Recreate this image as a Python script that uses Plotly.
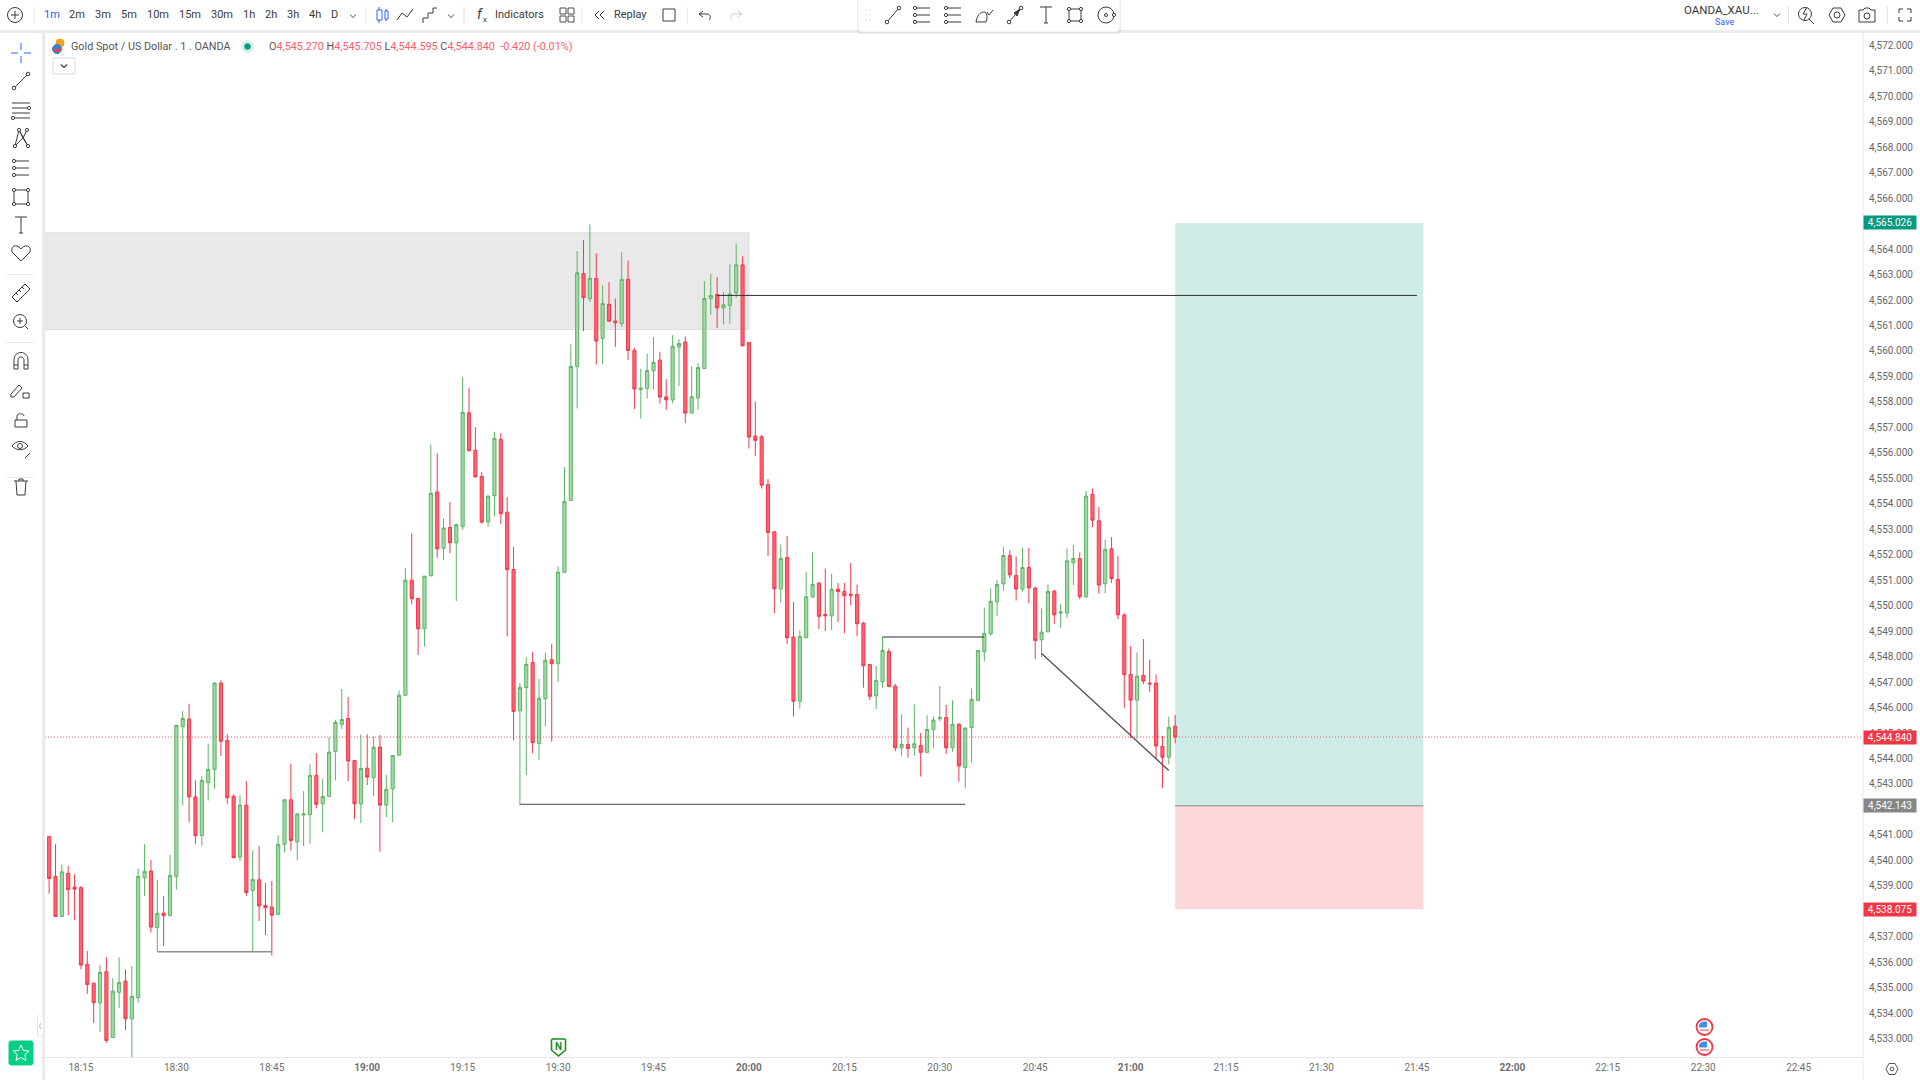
# -*- coding: utf-8 -*-
import plotly.graph_objects as go

# 1 minute candles, first one at 18:10, last one at 21:07
start_hour, start_minute = 18, 10

opens = [
    4540.94, 4539.37, 4537.80, 4539.49, 4538.95, 4538.93, 4535.92, 4535.18, 4534.41, 4535.63,
    4533.04, 4534.82, 4535.26, 4533.78, 4534.61, 4539.32, 4539.58, 4537.36, 4537.93, 4537.83,
    4539.36, 4545.25, 4545.55, 4542.49, 4540.97, 4543.05, 4543.57, 4546.96, 4544.71, 4542.52,
    4540.13, 4542.17, 4538.82, 4539.24, 4538.23, 4538.17, 4537.88, 4540.63, 4542.38, 4540.73,
    4541.78, 4541.79, 4543.34, 4542.22, 4542.51, 4544.27, 4545.34, 4545.57, 4543.92, 4542.22,
    4543.62, 4543.24, 4544.45, 4542.17, 4542.81, 4544.13, 4546.48, 4551.00, 4550.28, 4549.09,
    4551.17, 4554.46, 4552.25, 4553.07, 4552.47, 4553.11, 4557.57, 4556.10, 4555.07, 4553.29,
    4554.32, 4556.53, 4553.67, 4551.42, 4545.87, 4546.79, 4547.77, 4544.59, 4546.35, 4547.88,
    4547.72, 4551.31, 4554.13, 4559.39, 4563.04, 4562.05, 4562.85, 4560.49, 4561.83, 4561.17,
    4561.07, 4562.81, 4560.02, 4558.48, 4558.53, 4559.22, 4559.64, 4558.20, 4558.08, 4560.16,
    4560.35, 4557.56, 4558.16, 4559.31, 4562.06, 4562.22, 4561.69, 4561.79, 4562.28, 4563.38,
    4560.33, 4556.66, 4556.63, 4554.76, 4552.90, 4550.66, 4551.89, 4548.77, 4546.25, 4548.74,
    4550.34, 4550.89, 4549.66, 4549.60, 4550.65, 4550.56, 4550.44, 4550.44, 4549.31, 4547.69,
    4546.46, 4547.01, 4548.20, 4546.84, 4544.42, 4544.55, 4544.42, 4544.51, 4544.24, 4545.13,
    4545.56, 4545.61, 4544.42, 4545.35, 4543.64, 4545.21, 4546.28, 4548.19, 4548.90, 4550.15,
    4550.86, 4551.97, 4551.19, 4550.65, 4551.50, 4550.69, 4548.66, 4548.97, 4550.57, 4549.71,
    4549.71, 4551.68, 4551.85, 4550.35, 4554.37, 4553.33, 4550.86, 4552.23, 4551.03, 4549.63,
    4547.30, 4546.29, 4547.26, 4546.96, 4546.96, 4544.47, 4544.05, 4545.27,
]
highs = [
    4540.94, 4540.63, 4539.84, 4539.78, 4539.45, 4538.99, 4536.44, 4535.18, 4535.89, 4536.20,
    4535.37, 4536.20, 4535.72, 4535.85, 4539.68, 4540.63, 4540.02, 4539.24, 4538.59, 4540.21,
    4545.30, 4545.86, 4546.15, 4543.14, 4543.32, 4544.58, 4546.99, 4547.07, 4544.95, 4542.59,
    4542.56, 4543.11, 4540.39, 4540.56, 4539.11, 4539.19, 4540.99, 4542.41, 4543.79, 4541.86,
    4542.72, 4543.77, 4544.21, 4543.19, 4544.84, 4545.52, 4546.73, 4546.41, 4543.92, 4544.95,
    4544.95, 4544.87, 4544.92, 4543.35, 4544.12, 4546.67, 4551.49, 4552.84, 4550.31, 4551.16,
    4556.33, 4555.98, 4553.43, 4554.07, 4553.22, 4558.97, 4558.56, 4557.01, 4555.24, 4554.33,
    4556.83, 4556.78, 4554.26, 4552.30, 4546.96, 4547.98, 4548.19, 4547.12, 4548.16, 4548.50,
    4551.54, 4555.44, 4560.26, 4563.92, 4564.35, 4564.97, 4563.83, 4562.58, 4562.70, 4562.06,
    4563.87, 4563.55, 4560.12, 4559.30, 4559.90, 4560.54, 4559.97, 4558.89, 4560.62, 4560.46,
    4560.57, 4559.40, 4559.52, 4562.74, 4563.02, 4562.90, 4562.31, 4563.40, 4564.21, 4563.71,
    4560.33, 4558.02, 4556.70, 4554.97, 4552.90, 4552.40, 4552.74, 4550.14, 4549.03, 4551.33,
    4552.09, 4550.91, 4551.46, 4551.26, 4550.89, 4550.89, 4551.67, 4550.83, 4549.37, 4547.69,
    4547.63, 4548.77, 4548.32, 4546.93, 4545.73, 4545.21, 4546.12, 4545.00, 4545.70, 4545.65,
    4546.84, 4546.10, 4546.28, 4545.38, 4545.23, 4546.75, 4548.24, 4549.92, 4550.68, 4551.02,
    4552.30, 4552.18, 4551.93, 4552.27, 4552.27, 4550.75, 4549.89, 4550.83, 4550.62, 4550.07,
    4552.25, 4552.38, 4552.09, 4554.50, 4554.60, 4553.87, 4552.59, 4552.69, 4551.96, 4549.71,
    4548.41, 4548.16, 4548.69, 4547.88, 4547.30, 4544.89, 4545.65, 4545.705,
]
lows = [
    4538.69, 4537.80, 4537.77, 4537.85, 4537.67, 4535.73, 4534.76, 4533.61, 4533.27, 4532.84,
    4533.04, 4534.21, 4533.34, 4532.10, 4534.41, 4538.60, 4537.17, 4536.41, 4536.64, 4537.83,
    4538.85, 4542.17, 4541.50, 4540.65, 4540.57, 4542.35, 4542.81, 4544.10, 4542.22, 4540.10,
    4539.97, 4538.61, 4536.41, 4537.62, 4537.07, 4536.26, 4537.88, 4540.31, 4540.39, 4540.00,
    4540.56, 4540.65, 4542.04, 4541.10, 4542.51, 4543.14, 4545.16, 4543.11, 4541.62, 4541.46,
    4542.96, 4542.51, 4540.34, 4541.70, 4541.50, 4544.13, 4546.48, 4550.05, 4548.07, 4548.41,
    4551.17, 4551.88, 4551.80, 4552.06, 4550.18, 4552.98, 4556.08, 4555.02, 4553.22, 4553.10,
    4553.50, 4553.19, 4548.79, 4544.71, 4542.17, 4543.35, 4544.21, 4543.94, 4545.27, 4544.66,
    4547.01, 4551.31, 4554.13, 4557.74, 4560.78, 4561.93, 4559.47, 4559.47, 4561.15, 4560.16,
    4560.94, 4559.65, 4557.72, 4557.34, 4558.12, 4558.48, 4557.93, 4557.68, 4557.95, 4558.62,
    4557.17, 4557.56, 4557.70, 4559.31, 4561.42, 4560.91, 4561.04, 4561.07, 4562.09, 4560.20,
    4556.17, 4555.87, 4554.60, 4551.95, 4549.71, 4550.11, 4548.50, 4545.65, 4545.96, 4548.74,
    4550.31, 4549.08, 4549.00, 4549.04, 4549.35, 4548.92, 4550.02, 4548.80, 4546.78, 4546.30,
    4545.94, 4546.78, 4546.82, 4544.29, 4544.11, 4544.03, 4544.11, 4543.29, 4544.24, 4544.42,
    4545.47, 4544.18, 4544.26, 4543.09, 4542.82, 4543.83, 4546.28, 4547.82, 4548.82, 4549.60,
    4550.57, 4551.08, 4550.20, 4550.55, 4550.10, 4547.90, 4547.98, 4548.97, 4549.28, 4549.13,
    4549.52, 4550.81, 4550.26, 4550.31, 4553.08, 4550.47, 4550.49, 4550.89, 4549.47, 4545.99,
    4544.79, 4544.75, 4546.91, 4546.62, 4544.00, 4542.85, 4543.77, 4544.595,
]
closes = [
    4539.29, 4537.80, 4539.55, 4538.85, 4538.87, 4535.89, 4535.13, 4534.41, 4535.60, 4532.93,
    4534.87, 4535.21, 4533.78, 4534.66, 4539.37, 4539.57, 4537.38, 4537.92, 4537.83, 4539.41,
    4545.30, 4545.57, 4542.49, 4540.97, 4543.14, 4543.57, 4546.96, 4544.68, 4542.46, 4540.10,
    4542.17, 4538.74, 4539.25, 4538.21, 4538.14, 4537.85, 4540.63, 4542.38, 4540.78, 4541.82,
    4541.82, 4543.34, 4542.20, 4542.51, 4544.25, 4545.42, 4545.53, 4543.90, 4542.22, 4543.61,
    4543.27, 4544.44, 4542.17, 4542.79, 4544.12, 4546.48, 4551.00, 4550.27, 4549.09, 4551.16,
    4554.41, 4552.23, 4553.05, 4552.47, 4553.18, 4557.59, 4556.08, 4555.06, 4553.28, 4554.30,
    4556.57, 4553.61, 4551.41, 4545.85, 4546.79, 4547.69, 4544.62, 4546.36, 4547.86, 4547.72,
    4551.32, 4554.09, 4559.39, 4563.07, 4562.09, 4562.85, 4560.39, 4561.86, 4561.17, 4561.11,
    4562.81, 4560.02, 4558.51, 4558.54, 4559.23, 4559.55, 4558.19, 4558.08, 4560.18, 4560.29,
    4557.56, 4558.20, 4559.35, 4562.06, 4562.18, 4561.69, 4561.81, 4562.24, 4563.38, 4560.20,
    4556.62, 4556.49, 4554.73, 4552.87, 4550.66, 4551.85, 4548.74, 4546.25, 4548.79, 4550.35,
    4550.83, 4549.58, 4549.60, 4550.64, 4550.55, 4550.39, 4550.41, 4549.29, 4547.64, 4546.44,
    4547.06, 4548.24, 4546.82, 4544.42, 4544.55, 4544.39, 4544.58, 4544.24, 4545.14, 4545.51,
    4545.61, 4544.42, 4545.34, 4543.71, 4545.19, 4546.32, 4548.24, 4548.91, 4550.17, 4550.83,
    4551.97, 4551.21, 4550.65, 4551.50, 4550.70, 4548.63, 4548.96, 4550.56, 4549.64, 4549.75,
    4551.76, 4551.85, 4550.35, 4554.30, 4553.35, 4550.81, 4552.21, 4551.06, 4549.64, 4547.29,
    4546.29, 4547.23, 4547.04, 4546.93, 4544.49, 4544.05, 4545.22, 4544.84,
]

time_tick_labels = ['18:15', '18:30', '18:45', '<b>19:00</b>', '19:15', '19:30', '19:45', '<b>20:00</b>',
                    '20:15', '20:30', '20:45', '<b>21:00</b>', '21:15', '21:30', '21:45', '<b>22:00</b>',
                    '22:15', '22:30', '22:45']
time_tick_values = ['18:15', '18:30', '18:45', '19:00', '19:15', '19:30', '19:45', '20:00',
                    '20:15', '20:30', '20:45', '21:00', '21:15', '21:30', '21:45', '22:00',
                    '22:15', '22:30', '22:45']

# 4,538 / 4,542 / 4,565 are hidden behind the price tags in the reference
price_tick_values = [4533, 4534, 4535, 4536, 4537, 4539, 4540, 4541, 4543, 4544, 4545, 4546, 4547, 4548, 4549,
                     4550, 4551, 4552, 4553, 4554, 4555, 4556, 4557, 4558, 4559, 4560, 4561, 4562, 4563, 4564,
                     4566, 4567, 4568, 4569, 4570, 4571, 4572]
price_tick_labels = [f'{v:,.3f}' for v in price_tick_values]

# Prices of the long position tool and of the last bar
target_price, entry_price, stop_price = 4565.026, 4542.143, 4538.075
last_price = 4544.840

# Drawn objects: (start time, start price, end time, end price, colour, width)
drawn_lines = [
    ('19:55', 4562.18, '21:45', 4562.18, '#2f2f2f', 1),
    ('19:24', 4542.20, '20:34', 4542.20, '#6e6e6e', 1.4),
    ('18:27', 4536.41, '18:45', 4536.41, '#8f8f8f', 1.4),
    ('20:21', 4548.77, '20:37', 4548.77, '#2f2f2f', 1.1),
    ('20:46', 4548.12, '21:06', 4543.53, '#555555', 1.4),
]

GREEN_FILL, GREEN_LINE = '#a3d8a8', '#5bb562'
RED_FILL, RED_LINE = '#ff6472', '#f2384b'
DAY = '2025-12-26 '
FONT = 'Roboto'
INK = '#3a3a3a'
BAND = '#e9eaef'

minutes = [start_hour * 60 + start_minute + i for i in range(len(opens))]
times = [f'{DAY}{m // 60:02d}:{m % 60:02d}' for m in minutes]

shapes = []
annotations = []


# The figure has no margins, so paper coordinates map straight to page pixels
def px_x(x):
    return x / 1920


def px_y(y):
    return 1 - y / 1080


def box(x0, y0, x1, y1, fill, line=None, width=1):
    shapes.append(dict(type='rect', xref='paper', yref='paper', x0=px_x(x0), x1=px_x(x1),
                       y0=px_y(y0), y1=px_y(y1), fillcolor=fill, layer='above',
                       line=dict(color=line or fill, width=width if line else 0)))


def ring(cx, cy, r, color=INK, fill='rgba(0,0,0,0)', width=1):
    shapes.append(dict(type='circle', xref='paper', yref='paper', x0=px_x(cx - r), x1=px_x(cx + r),
                       y0=px_y(cy - r), y1=px_y(cy + r), fillcolor=fill, layer='above',
                       line=dict(color=color, width=width)))


def icon(d, cx, cy, color=INK, width=1, fill='rgba(0,0,0,0)'):
    # d is an svg path with space separated tokens, relative to the icon centre
    out, is_x = [], True
    for tok in d.split():
        if tok.isalpha():
            out.append(tok)
        else:
            out.append(f'{px_x(cx + float(tok)):.5f}' if is_x else f'{px_y(cy + float(tok)):.5f}')
            is_x = not is_x
    shapes.append(dict(type='path', xref='paper', yref='paper', path=' '.join(out), fillcolor=fill,
                       layer='above', line=dict(color=color, width=width)))


def label(text, x, y, size=11, color=INK, anchor='center'):
    annotations.append(dict(text=text, xref='paper', yref='paper', x=px_x(x), y=px_y(y), xanchor=anchor,
                            yanchor='middle', showarrow=False, font=dict(family=FONT, size=size, color=color)))


def price_tag(text, price, fill):
    annotations.append(dict(text=text, xref='paper', yref='y', x=px_x(1863), y=price, xanchor='left',
                            yanchor='middle', showarrow=False, width=52, height=13, align='center',
                            bgcolor=fill, borderpad=0, font=dict(family=FONT, size=10, color='white')))


def node_line(x0, y0, x1, y1, cx, cy):
    icon(f'M {x0} {y0} L {x1} {y1}', cx, cy)
    ring(cx + x0, cy + y0, 1.8, fill='white')
    ring(cx + x1, cy + y1, 1.8, fill='white')


fig = go.Figure()
fig.add_trace(go.Candlestick(x=times, open=opens, high=highs, low=lows, close=closes,
                             increasing=dict(fillcolor=GREEN_FILL, line=dict(color=GREEN_LINE, width=1)),
                             decreasing=dict(fillcolor=RED_FILL, line=dict(color=RED_LINE, width=1)),
                             whiskerwidth=0, hoverinfo='skip', showlegend=False))

# Supply zone behind the candles
shapes.append(dict(type='rect', x0=DAY + '18:00', x1=DAY + '20:00', y0=4560.84, y1=4564.64, xref='x', yref='y',
                   fillcolor='#e9e9e9', line=dict(color='#dedede', width=1), layer='below'))

# Long position tool
shapes.append(dict(type='rect', x0=times[-1], x1=DAY + '21:46', y0=entry_price, y1=target_price, xref='x', yref='y',
                   fillcolor='rgba(8,153,129,0.2)', line=dict(width=0), layer='above'))
shapes.append(dict(type='rect', x0=times[-1], x1=DAY + '21:46', y0=stop_price, y1=entry_price, xref='x', yref='y',
                   fillcolor='rgba(242,54,69,0.2)', line=dict(width=0), layer='above'))
shapes.append(dict(type='line', x0=times[-1], x1=DAY + '21:46', y0=entry_price, y1=entry_price, xref='x', yref='y',
                   line=dict(color='#8a8a8a', width=1), layer='above'))

for t0, p0, t1, p1, color, width in drawn_lines:
    shapes.append(dict(type='line', x0=DAY + t0, x1=DAY + t1, y0=p0, y1=p1, xref='x', yref='y',
                       line=dict(color=color, width=width), layer='above'))

shapes.append(dict(type='line', xref='paper', yref='y', x0=px_x(45), x1=px_x(1863), y0=last_price, y1=last_price,
                   line=dict(color='rgba(242,54,69,0.8)', width=1, dash='1px,2px'), layer='above'))

# Window chrome: bands and axis separators
box(0, 30, 1920, 33, BAND)
box(42, 33, 45, 1080, BAND)
box(1862.5, 33, 1863.5, 1080, '#e6e7ec')

# Top toolbar
ring(15, 15, 7.5, width=1)
icon('M -4 0 L 4 0 M 0 -4 L 0 4', 15, 15)
for text, x in [('2m', 77), ('3m', 103), ('5m', 129), ('10m', 158), ('15m', 190), ('30m', 222),
                ('1h', 249), ('2h', 271), ('3h', 293), ('4h', 315), ('D', 334)]:
    label(text, x, 15)
label('1m', 52, 15, color='#2962ff')
chevron = 'M -3 -1.5 L 0 1.5 L 3 -1.5'
icon(chevron, 353, 16, width=0.9)
for x in (34, 366, 464, 582):
    box(x - 0.5, 7, x + 0.5, 24, '#e3e4e8')
icon('M -3 -8 L -3 8 M 4 -6 L 4 6', 382, 15, color='#2962ff')
box(377, 10, 382, 20, 'white', '#2962ff')
box(385, 11, 388, 19, 'white', '#2962ff')
icon('M -8 5 L -3 -2 L 2 2 L 8 -6', 405, 15, width=1)
icon('M -7 8 L -7 3 L -2 3 L -2 -2 L 3 -2 L 3 -7 L 7 -7', 430, 15, width=1)
icon(chevron, 451, 16, width=0.9)
label('<i>f</i>', 480, 14, size=14)
label('x', 485, 20, size=8)
label('Indicators', 519, 15)
for dx, dy in [(-4, -4), (4, -4), (-4, 4), (4, 4)]:
    box(567 + dx - 3, 15 + dy - 3, 567 + dx + 3, 15 + dy + 3, 'white', INK, 0.9)
icon('M -1 -4 L -5 0 L -1 4 M 4 -4 L 0 0 L 4 4', 600, 15)
label('Replay', 630, 15)
box(663, 9, 675, 21, 'white', INK, 1)
box(687, 7, 687.8, 24, '#e3e4e8')
icon('M -6 -1 L -2 -4 M -6 -1 L -2 2 M -6 -1 L 2 -1 C 6 -1 6 4 4 5', 705, 15)
icon('M 6 -1 L 2 -4 M 6 -1 L 2 2 M 6 -1 L -2 -1 C -6 -1 -6 4 -4 5', 736, 15, color='#c9c9c9')

# Floating drawing toolbar
icon('M -1 -1 L -1 29 C -1 32 1 34 4 34 L 258 34 C 261 34 263 32 263 29 L 263 -1 Z', 858, 0,
     color='rgba(0,0,0,0)', fill='rgba(0,0,0,0.07)', width=0)
icon('M 0 -1 L 0 27 C 0 30 2 32 5 32 L 257 32 C 260 32 262 30 262 27 L 262 -1 Z', 858, 0, color='#ececf0', fill='white')
for dx in (-2, 2):
    for dy in (-5, 0, 5):
        box(868 + dx - 0.5, 15 + dy - 0.5, 868 + dx + 0.5, 15 + dy + 0.5, '#c4c4c4')
node_line(-6, 7, 6, -7, 893, 15)
for cx in (922, 953):
    for dy in (-7, 0, 7):
        icon(f'M -7 {dy} L 8 {dy}', cx, 15)
        ring(cx - 7, 15 + dy, 1.6, fill='white')
icon('M -8 7 C -7 1 -4 -3 0 -3 C 3 -3 4 2 2 7 Z M 3 -3 L 5 0 L 9 -5', 984, 15)
node_line(-6, 7, 6, -7, 1015, 15)
icon('M -1 -2 L 5 -6 L 2 1 Z', 1015, 15, fill=INK)
icon('M -6 -8 L 6 -8 M 0 -8 L 0 8 M -2 8 L 2 8', 1046, 15)
box(1069, 9, 1081, 21, 'white', INK, 1)
for dx, dy in [(-6, -6), (6, -6), (-6, 6), (6, 6)]:
    ring(1075 + dx, 15 + dy, 1.6, fill='white')
ring(1106, 15, 8)
ring(1106, 15, 1.5)
ring(1114, 15, 1.6, fill='white')

# Top right of the toolbar
label('OANDA_XAU...', 1721, 10, size=11.5)
label('Save', 1724, 22, size=9, color='#2962ff')
icon(chevron, 1777, 15, width=0.9)
box(1788, 6, 1789, 24, '#e3e4e8')
ring(1805, 14, 6.5)
icon('M 4 5 L 9 10 M 2 -7 L -2 0 L 2 0 L -1 6', 1805, 14)
icon('M -8 0 L -4 -7 L 4 -7 L 8 0 L 4 7 L -4 7 Z', 1837, 15)
ring(1837, 15, 3)
icon('M -8 -5 L -4 -5 L -2 -7 L 2 -7 L 4 -5 L 8 -5 L 8 7 L -8 7 Z', 1867, 15)
ring(1867, 16, 3)
box(1887, 6, 1888, 24, '#e3e4e8')
icon('M -6 -2 L -6 -6 L -2 -6 M 2 -6 L 6 -6 L 6 -2 M 6 2 L 6 6 L 2 6 M -2 6 L -6 6 L -6 2', 1905, 15)

# Left toolbar
icon('M -10 0 L -3 0 M 3 0 L 10 0 M 0 -10 L 0 -3 M 0 3 L 0 10', 21, 53, color='#2962ff')
node_line(-7, 7, 7, -7, 21, 81)
for dy in (-7, -2, 3, 8):
    icon(f'M -9 {dy} L 9 {dy}', 21, 110)
ring(29, 108, 1.6, fill='white')
ring(13, 118, 1.6, fill='white')
icon('M -6 8 L -2 -8 L 2 0 L 7 8 M -6 8 L 2 0 L 6 -8 M -2 -8 L 7 8', 21, 138)
for dx, dy in [(-6, 8), (-2, -8), (6, -8), (7, 8)]:
    ring(21 + dx, 138 + dy, 1.6, fill='white')
for dy in (-7, 0, 7):
    icon(f'M -7 {dy} L 8 {dy}', 21, 168)
    ring(14, 168 + dy, 1.6, fill='white')
box(14, 190, 28, 204, 'white', INK, 1)
for dx, dy in [(-7, -7), (7, -7), (-7, 7), (7, 7)]:
    ring(21 + dx, 197 + dy, 1.6, fill='white')
icon('M -6 -8 L 6 -8 M 0 -8 L 0 8 M -2 8 L 2 8', 21, 225)
icon('M 0 8 L -9 -1 C -11 -8 -3 -9 0 -4 C 3 -9 11 -8 9 -1 Z', 21, 253)
for y in (274, 342, 477):
    box(6, y, 35, y + 0.8, '#e6e7ea')
icon('M -9 4 L 4 -9 L 9 -4 L -4 9 Z M -5 0 L -3 2 M -2 -3 L 0 -1 M 1 -6 L 3 -4', 21, 293)
ring(20, 321, 6.5)
icon('M -3 0 L 3 0 M 0 -3 L 0 3', 20, 321)
icon('M 5 5 L 8 8', 20, 321)
icon('M -7 8 L -7 -1 C -7 -11 7 -11 7 -1 L 7 8 L 3 8 L 3 -1 C 3 -5 -3 -5 -3 -1 L -3 8 Z M -7 4 L -3 4 M 3 4 L 7 4', 21, 361)
icon('M -8 6 L -8 3 L 0 -6 L 3 -3 L -5 6 Z', 19, 391)
box(23, 393, 29, 398, 'white', INK, 1)
icon('M -6 6 L 6 6 L 6 -1 L -6 -1 Z M -4 -1 L -4 -5 C -4 -8 3 -8 3 -5', 21, 421)
icon('M -8 0 C -4 -6 4 -6 8 0 C 4 5 -4 5 -8 0 Z', 20, 446)
ring(20, 446, 2.5)
icon('M -2 4 L 3 -1', 27, 454)
icon('M -7 -6 L 7 -6 M -5 -6 L -4 8 L 4 8 L 5 -6 M -2 -6 L -2 -8 L 2 -8 L 2 -6', 21, 487)

# Panel collapse tab, star button, settings
box(37.5, 1016, 43.5, 1036, 'white', '#e6e7ea')
icon('M 0 -3 L -1.5 0 L 0 3', 41, 1026, color='#bbbbbb')
icon('M 0 -12 L 10 -12 C 11 -12 12 -11 12 -10 L 12 10 C 12 11 11 12 10 12 L -10 12 C -11 12 -12 11 -12 10 '
     'L -12 -10 C -12 -11 -11 -12 -10 -12 Z', 21, 1053, color='#05cf85', fill='#05cf85')
icon('M 0 -8 L 2.4 -2.5 L 8 -2 L 3.8 1.7 L 5 7.5 L 0 4.5 L -5 7.5 L -3.8 1.7 L -8 -2 L -2.4 -2.5 Z', 21, 1053,
     color='white')
icon('M -6 0 L -3 -5.5 L 3 -5.5 L 6 0 L 3 5.5 L -3 5.5 Z', 1892, 1069, color='#555555')
ring(1892, 1069, 1.8, color='#555555')

# Legend row
ring(60, 43, 4, color='#f0a020', fill='#f0a020')
ring(57, 49, 4.5, color='#3d7edb', fill='#3d7edb')
box(53, 49, 61, 51.5, '#e8414e')
label('Gold Spot / US Dollar . 1 . OANDA', 68.5, 46, size=10.8, color='#555555', anchor='left')
ring(247.5, 46.5, 6, color='#d5efe9', fill='#d5efe9')
ring(247.5, 46.5, 2.8, color='#089981', fill='#089981')
red = '<span style="color:#f4606e">'
label(f'O{red}4,545.270</span> H{red}4,545.705</span> L{red}4,544.595</span> C{red}4,544.840</span>'
      f'  {red}-0.420 (-0.01%)</span>', 266.5, 46, size=10.8, color='#555555', anchor='left')
box(53, 58, 75, 74, 'white', '#dddddd')
icon('M -3 -1.5 L 0 1.5 L 3 -1.5', 64, 66, width=1.2)

# Economic calendar markers
icon('M -6 -8 L 6 -8 L 7 -7 L 7 3 L 0 9 L -7 3 L -7 -7 Z', 558.5, 1047, color='#1a8f1a', width=1.6, fill='white')
label('<b>N</b>', 558, 1046, size=10, color='#1a8f1a')
for flag_y in (1027, 1047):
    ring(1704.5, flag_y, 8, color='#f2364a', fill='white', width=1.8)
    icon('M -5 0 L -5 -1 C -5 -4 -2 -5 0 -5 L 2 -5 L 2 0 Z', 1704.5, flag_y, color='#3f8fe6', fill='#3f8fe6')
    box(1700, flag_y + 2.5, 1709, flag_y + 3.5, '#f2364a')

# Price tags sit over the axis labels
price_tag('4,565.026', target_price, '#089981')
price_tag('4,544.840', last_price, '#f23645')
price_tag('4,542.143', entry_price, '#868686')
price_tag('4,538.075', stop_price, '#f23645')

fig.update_layout(
    width=1920, height=1080,
    margin=dict(l=0, r=0, t=0, b=0),
    paper_bgcolor='white', plot_bgcolor='white',
    showlegend=False, hovermode=False,
    shapes=shapes, annotations=annotations,
    font=dict(family=FONT),
    xaxis=dict(domain=[45 / 1920, 1863 / 1920],
               range=[DAY + '18:09:21', DAY + '22:55:07'],
               rangeslider=dict(visible=False),
               tickmode='array',
               tickvals=[DAY + t for t in time_tick_values],
               ticktext=time_tick_labels,
               tickangle=0,
               ticklabelstandoff=1,
               showgrid=False, zeroline=False, ticks='',
               showline=True, linecolor='#e6e7ec', linewidth=1,
               tickfont=dict(family=FONT, size=10, color='#6f6f6f')),
    yaxis=dict(domain=[1 - 1057 / 1080, 1 - 33 / 1080],
               range=[4532.28, 4572.483],
               side='right',
               tickmode='array',
               tickvals=price_tick_values,
               ticktext=price_tick_labels,
               ticklabelstandoff=5,
               showgrid=False, zeroline=False, ticks='', showline=False,
               tickfont=dict(family=FONT, size=10, color='#666666')),
)

fig.write_html('out.html', config=dict(displayModeBar=False),
               post_script="document.body.style.margin='0';")
